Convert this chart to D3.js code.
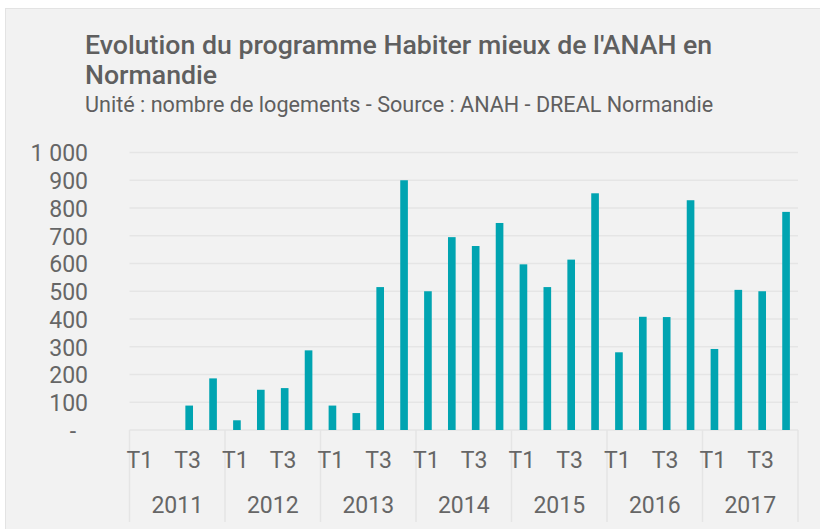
<!DOCTYPE html>
<html>
<head>
<meta charset="utf-8">
<script src="https://cdn.jsdelivr.net/npm/d3@7"></script>
<style>
  html, body { margin: 0; padding: 0; background: #fff; }
  svg { display: block; font-family: Roboto, "Noto Sans", sans-serif; }
</style>
</head>
<body>
<svg id="chart" width="820" height="529"></svg>
<script>
"use strict";

// data
const years = ['2011', '2012', '2013', '2014', '2015', '2016', '2017'];
const quarters = ['T1', 'T2', 'T3', 'T4'];
const quarterLabelsShown = ['T1', 'T3'];
const values = [
  0, 0, 88, 186,
  35, 145, 151, 287,
  88, 61, 515, 900,
  500, 695, 663, 746,
  597, 515, 614, 853,
  280, 408, 407, 828,
  292, 505, 500, 786
];
const yTicks = [0, 100, 200, 300, 400, 500, 600, 700, 800, 900, 1000];

const titleLines = ["Evolution du programme Habiter mieux de l'ANAH en", "Normandie"];
const subtitle = "Unité : nombre de logements - Source : ANAH - DREAL Normandie";

// one row per bar
const rows = [];
years.forEach((y, yi) => {
  quarters.forEach((q, qi) => {
    rows.push({ key: y + '-' + q, year: y, quarter: q, value: values[yi * 4 + qi] });
  });
});

const svg = d3.select('#chart');
const W = 820, H = 529;
const margin = { left: 129.5, right: 22, top: 152.5, bottom: 99 };

const textColor = '#5f5f5f';
const tickColor = '#666';
const gridColor = '#e5e5e5';
const barColor = '#00a4b1';

const fr = d3.formatLocale({ decimal: ',', thousands: ' ', grouping: [3], currency: ['', ' €'] });
const fmt = fr.format(',d');

// panel background
svg.append('rect')
  .attr('x', 5.5).attr('y', 8.5)
  .attr('width', W).attr('height', H)
  .attr('fill', '#f2f2f2')
  .attr('stroke', '#e3e3e3');

// titles
const title = svg.append('text')
  .attr('fill', textColor)
  .attr('font-size', 26.7)
  .attr('font-weight', 500);
titleLines.forEach((t, i) => {
  title.append('tspan').attr('x', 85).attr('y', 54 + i * 30).text(t);
});

svg.append('text')
  .attr('x', 85).attr('y', 111.5)
  .attr('fill', textColor)
  .attr('font-size', 21.6)
  .text(subtitle);

// scales
const x = d3.scaleBand()
  .domain(rows.map(d => d.key))
  .range([margin.left, W - margin.right])
  .paddingInner(0.68)
  .paddingOuter(0.34);

const y = d3.scaleLinear()
  .domain([0, 1000])
  .range([H - margin.bottom, margin.top]);

const step = x.step();
const gap = (step - x.bandwidth()) / 2;

// horizontal gridlines
svg.append('g')
  .selectAll('line')
  .data(yTicks)
  .join('line')
  .attr('x1', margin.left).attr('x2', W - margin.right)
  .attr('y1', d => y(d)).attr('y2', d => y(d))
  .attr('stroke', gridColor)
  .attr('stroke-width', 1.5);

// y axis labels
const yAxis = d3.axisLeft(y)
  .tickValues(yTicks)
  .tickSize(0)
  .tickPadding(0)
  .tickFormat(d => d === 0 ? '-' : fmt(d));

svg.append('g')
  .attr('transform', 'translate(88,0)')
  .call(yAxis)
  .call(g => g.select('.domain').remove())
  .call(g => g.selectAll('text')
    .attr('fill', tickColor)
    .attr('font-size', 23)
    .attr('font-family', 'Roboto, sans-serif')
    .attr('dy', '0.36em')
    .attr('dx', d => d === 0 ? -12 : 0));

// bars
svg.append('g')
  .selectAll('rect')
  .data(rows.filter(d => d.value > 0))
  .join('rect')
  .attr('x', d => x(d.key))
  .attr('width', x.bandwidth())
  .attr('y', d => y(d.value))
  .attr('height', d => y(0) - y(d.value))
  .attr('fill', barColor);

// category axis: quarter labels, year labels, separators
const axisTop = y(0);
const sepBottom = 522;
const xAxisG = svg.append('g');

const bounds = years.map(yr => x(yr + '-T1') - gap).concat([W - margin.right]);
xAxisG.selectAll('line.sep')
  .data(bounds)
  .join('line')
  .attr('class', 'sep')
  .attr('x1', d => d).attr('x2', d => d)
  .attr('y1', axisTop).attr('y2', sepBottom)
  .attr('stroke', gridColor)
  .attr('stroke-width', 1.5);

xAxisG.selectAll('text.q')
  .data(rows.filter(d => quarterLabelsShown.includes(d.quarter)))
  .join('text')
  .attr('class', 'q')
  .attr('x', d => x(d.key) + x.bandwidth() / 2 - 1.5)
  .attr('y', 468)
  .attr('text-anchor', 'middle')
  .attr('fill', tickColor)
  .attr('font-size', 23)
  .text(d => d.quarter);

xAxisG.selectAll('text.yr')
  .data(years)
  .join('text')
  .attr('class', 'yr')
  .attr('x', d => x(d + '-T1') - gap + step * 2)
  .attr('y', 513)
  .attr('text-anchor', 'middle')
  .attr('fill', tickColor)
  .attr('font-size', 23)
  .text(d => d);
</script>
</body>
</html>
